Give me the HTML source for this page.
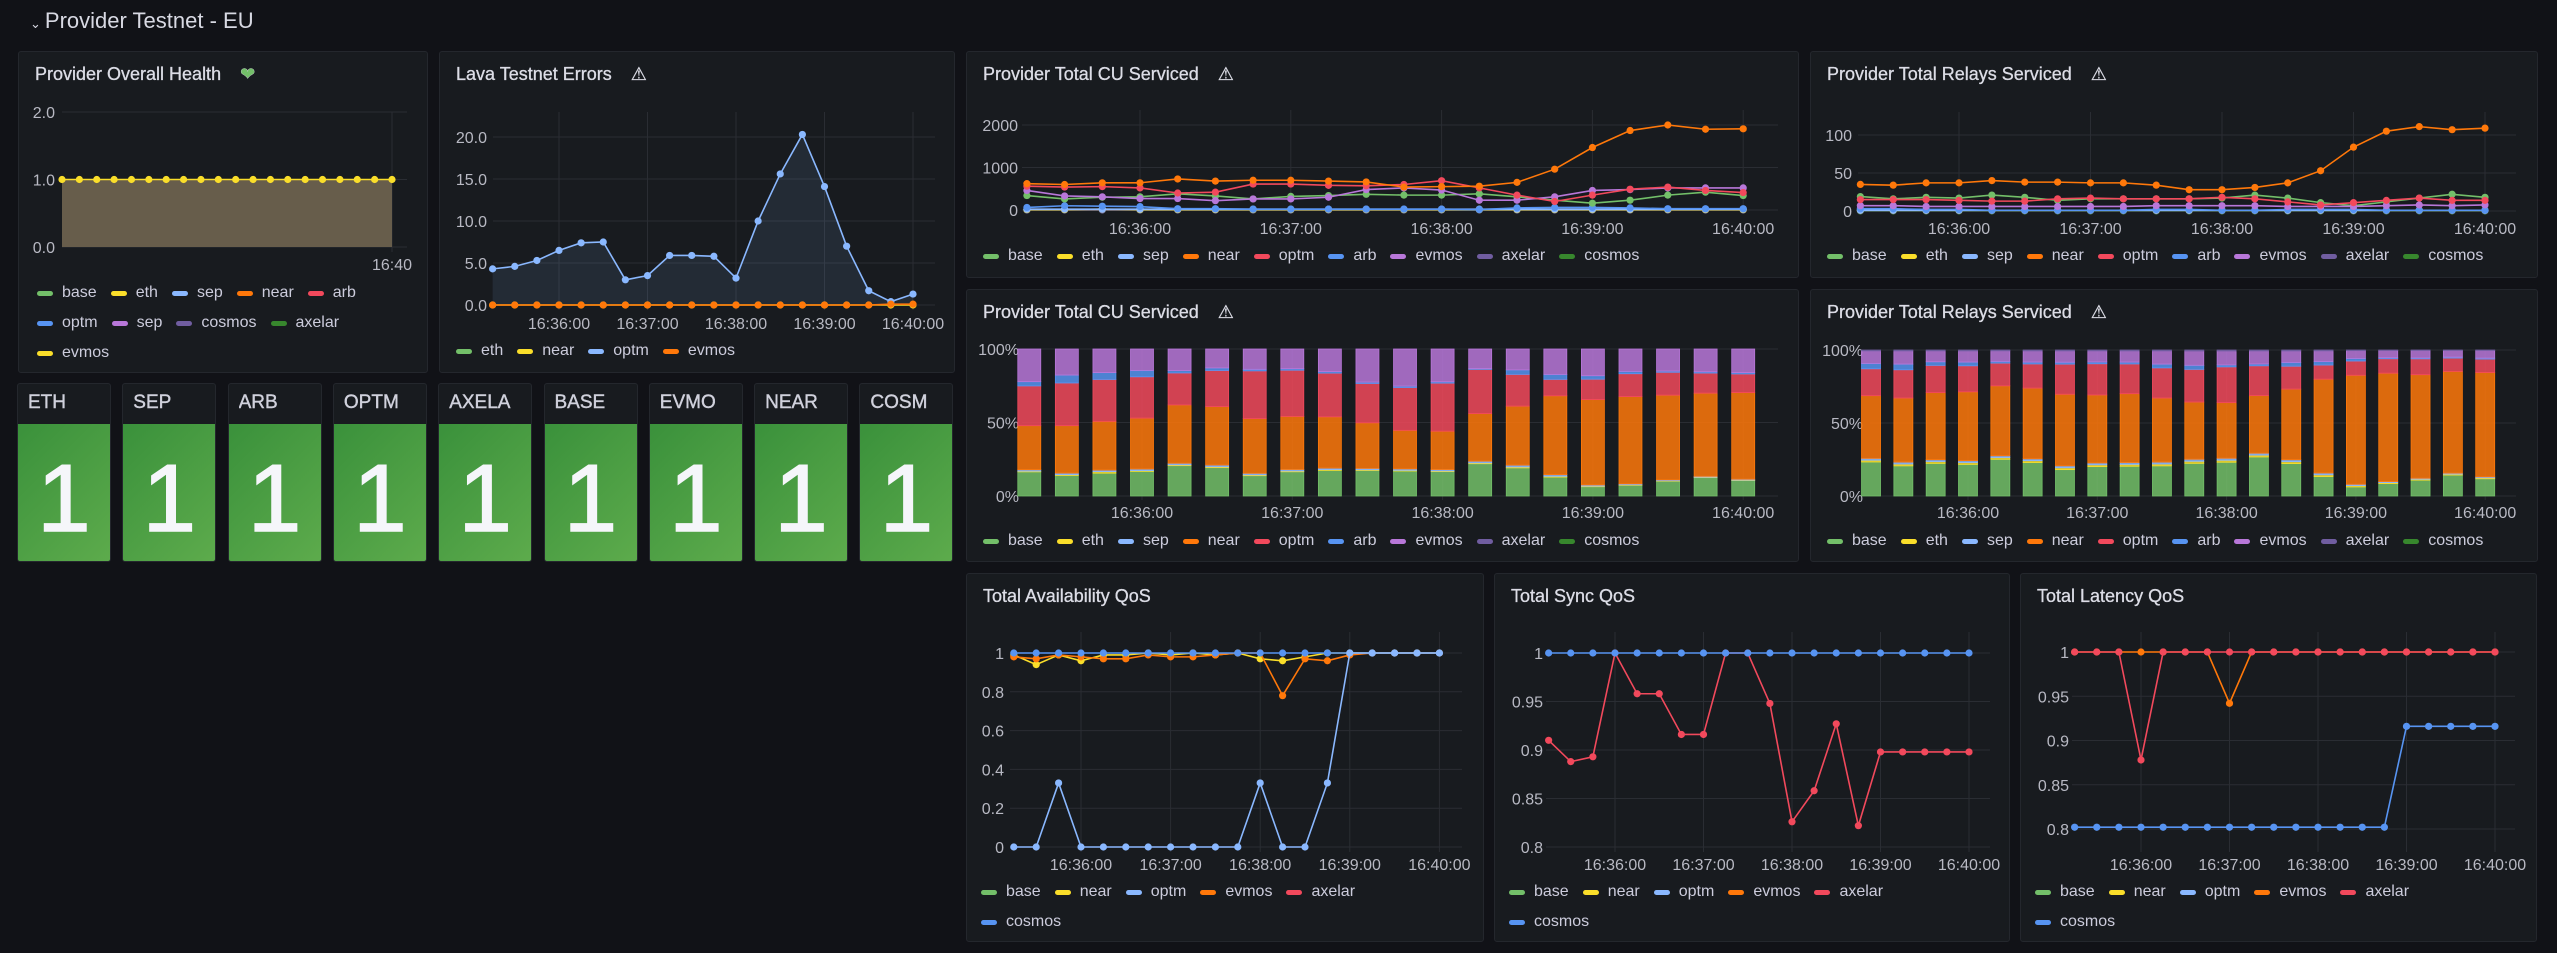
<!DOCTYPE html>
<html><head><meta charset="utf-8">
<style>
body{margin:0;width:2557px;height:953px;background:#111217;font-family:"Liberation Sans",sans-serif;color:#ccccdc;overflow:hidden;position:relative}
.panel{position:absolute;background:#181b1f;border:1px solid #24272d;border-radius:3px;box-sizing:border-box}
.title{position:absolute;left:16px;top:12px;font-size:18px;font-weight:400;color:#dcdde6;white-space:nowrap;-webkit-text-stroke:0.3px #dcdde6}
.legend{position:absolute;display:flex;flex-wrap:wrap;font-size:16px;color:#ccccdc;row-gap:10px}
.li{display:flex;align-items:center;margin-right:14px;height:20px}
.sw{width:16px;height:5px;border-radius:3px;margin-right:9px}
.tile{position:absolute;top:383px;width:94px;height:179px;border:1px solid #24272d;border-radius:3px;box-sizing:border-box;background:#181b1f;overflow:hidden}
.tile .h{position:absolute;left:10px;top:8px;font-size:19px;font-weight:400;-webkit-text-stroke:0.4px #d0d1dc;color:#d0d1dc;width:80px;overflow:hidden;white-space:nowrap}
.tile .g{position:absolute;left:0;top:40px;right:0;bottom:0;background:linear-gradient(135deg,#3a913b,#5dab4c)}
.tile .v{position:absolute;left:0;right:0;top:20px;text-align:center;font-size:96px;color:#f5f6fa;font-weight:400;-webkit-text-stroke:1.5px #f5f6fa}
svg text{font-family:"Liberation Sans",sans-serif}
</style></head><body>
<div style="position:absolute;left:30px;top:8px;font-size:22px;color:#d8d9e3;font-weight:500"><span style="font-size:13px;margin-right:4px">&#8964;</span>Provider Testnet - EU</div>

<div class="panel" style="left:18px;top:51px;width:410px;height:322px"><div class="title">Provider Overall Health <span style="color:#73bf69;margin-left:14px">&#10084;</span></div>
<div class="legend" style="left:18px;top:231px;width:380px"></div></div>
<div class="panel" style="left:439px;top:51px;width:516px;height:322px"><div class="title">Lava Testnet Errors <span style="margin-left:14px;font-weight:400">&#9888;</span></div>
<div class="legend" style="left:16px;top:289px;width:480px"></div></div>
<div class="panel" style="left:966px;top:51px;width:833px;height:227px"><div class="title">Provider Total CU Serviced <span style="margin-left:14px;font-weight:400">&#9888;</span></div>
<div class="legend" style="left:16px;top:194px;width:800px"></div></div>
<div class="panel" style="left:1810px;top:51px;width:728px;height:227px"><div class="title">Provider Total Relays Serviced <span style="margin-left:14px;font-weight:400">&#9888;</span></div>
<div class="legend" style="left:16px;top:194px;width:700px"></div></div>
<div class="panel" style="left:966px;top:289px;width:833px;height:273px"><div class="title">Provider Total CU Serviced <span style="margin-left:14px;font-weight:400">&#9888;</span></div>
<div class="legend" style="left:16px;top:241px;width:800px"></div></div>
<div class="panel" style="left:1810px;top:289px;width:728px;height:273px"><div class="title">Provider Total Relays Serviced <span style="margin-left:14px;font-weight:400">&#9888;</span></div>
<div class="legend" style="left:16px;top:241px;width:700px"></div></div>
<div class="panel" style="left:966px;top:573px;width:518px;height:369px"><div class="title">Total Availability QoS</div>
<div class="legend" style="left:14px;top:308px;width:420px"></div></div>
<div class="panel" style="left:1494px;top:573px;width:516px;height:369px"><div class="title">Total Sync QoS</div>
<div class="legend" style="left:14px;top:308px;width:420px"></div></div>
<div class="panel" style="left:2020px;top:573px;width:517px;height:369px"><div class="title">Total Latency QoS</div>
<div class="legend" style="left:14px;top:308px;width:420px"></div></div>

<div id="tiles"></div>
<svg id="s" width="2557" height="953" style="position:absolute;left:0;top:0"></svg>

<script>
const C={base:'#73bf69',eth:'#fade2a',sep:'#8ab8ff',near:'#ff780a',optm:'#f2495c',arb:'#5794f2',evmos:'#b877d9',axelar:'#705da0',cosmos:'#37872d',red:'#f2495c',blue:'#5794f2'};
// ---- data ----
const timeTicks=['16:36:00','16:37:00','16:38:00','16:39:00','16:40:00'];
const tickMinutes=[36,37,38,39,40];
const statNames=['ETH','SEP','ARB','OPTM','AXELA','BASE','EVMO','NEAR','COSM'];
const statValues=[1,1,1,1,1,1,1,1,1];
const healthValues=[1,1,1,1,1,1,1,1,1,1,1,1,1,1,1,1,1,1,1,1];
const healthTicks=[0,1,2];
const errOptm=[4.3,4.6,5.3,6.5,7.4,7.5,3.0,3.5,5.9,5.9,5.8,3.2,10.0,15.6,20.3,14.1,7.0,1.7,0.4,1.3];
const errEvmos=[0,0,0,0,0,0,0,0,0,0,0,0,0,0,0,0,0,0,0.1,0.1];
const errNear=[0,0,0,0,0,0,0,0,0,0,0,0,0,0,0,0,0,0,0,0];
const errTicks=[0,5,10,15,20];
const cuBase=[340,260,300,310,380,330,260,320,340,370,350,350,380,310,230,160,230,350,420,340];
const cuEth=[10,10,20,10,10,10,10,10,10,10,10,10,10,10,10,10,10,10,10,10];
const cuSep=[20,20,20,20,20,20,20,20,20,20,20,20,20,20,20,20,20,20,20,20];
const cuNear=[620,600,640,640,730,680,700,700,680,660,540,550,560,650,960,1470,1870,2000,1900,1910];
const cuOptm=[560,540,550,520,400,420,610,610,580,570,600,690,520,350,200,350,490,540,460,410];
const cuArb=[60,100,90,80,30,30,20,20,20,20,20,20,10,50,60,60,50,30,30,30];
const cuEvmos=[460,330,310,270,270,220,260,260,300,480,520,470,230,230,310,460,480,520,520,520];
const cuAxelar=[0,0,0,0,0,0,0,0,0,0,0,0,0,0,0,0,0,0,0,0];
const cuCosmos=[0,0,0,0,0,0,0,0,0,0,0,0,0,0,0,0,0,0,0,0];
const cuTicks=[0,1000,2000];
const rlBase=[19,16,18,17,21,18,14,16,16,16,16,17,21,17,11,7,12,17,22,18];
const rlEth=[1,1,1,1,1,1,1,1,1,1,1,1,1,1,1,1,1,1,1,1];
const rlSep=[1,1,1,1,1,1,1,1,1,1,1,1,1,1,1,1,1,1,1,1];
const rlNear=[35,34,37,37,40,38,38,37,37,34,28,28,31,37,53,84,105,111,107,109];
const rlOptm=[15,15,15,14,13,13,16,17,16,16,16,18,16,12,8,11,14,17,14,14];
const rlArb=[3,3,2,2,1,1,1,1,1,2,2,1,1,2,2,2,1,1,1,1];
const rlEvmos=[7,7,6,6,6,6,6,6,6,7,7,7,7,6,6,6,7,8,7,8];
const rlAxelar=[0.5,0.5,0.5,0.5,0.5,0.5,0.5,0.5,0.5,0.5,0.5,0.5,0.5,0.5,0.5,0.5,0.5,0.5,0.5,0.5];
const rlCosmos=[0,0,0,0,0,0,0,0,0,0,0,0,0,0,0,0,0,0,0,0];
const rlTicks=[0,50,100];
const pctTicks=[0,50,100];
const avOptm=[0,0,0.33,0,0,0,0,0,0,0,0,0.33,0,0,0.33,1,1,1,1,1];
const avEvmos=[0.98,0.97,0.99,0.98,0.97,0.97,0.99,0.98,0.98,0.99,1,1,0.78,0.97,0.96,0.99,1,1,1,1];
const avNear=[0.99,0.94,0.99,0.96,0.99,0.99,1,0.99,1,0.99,1,0.97,0.96,0.98,1,1,1,1,1,1];
const avCosmos=[1,1,1,1,1,1,1,1,1,1,1,1,1,1,1,1,1,1,1,1];
const avTicks=[0,0.2,0.4,0.6,0.8,1];
const syAxelar=[0.91,0.888,0.893,1,0.958,0.958,0.916,0.916,1,1,0.948,0.826,0.858,0.927,0.822,0.898,0.898,0.898,0.898,0.898];
const syCosmos=[1,1,1,1,1,1,1,1,1,1,1,1,1,1,1,1,1,1,1,1];
const syTicks=[0.8,0.85,0.9,0.95,1];
const ltAxelar=[1,1,1,0.878,1,1,1,1,1,1,1,1,1,1,1,1,1,1,1,1];
const ltEvmos=[1,1,1,1,1,1,1,0.942,1,1,1,1,1,1,1,1,1,1,1,1];
const ltCosmos=[0.802,0.802,0.802,0.802,0.802,0.802,0.802,0.802,0.802,0.802,0.802,0.802,0.802,0.802,0.802,0.916,0.916,0.916,0.916,0.916];
const ltTicks=[0.8,0.85,0.9,0.95,1];

const svg=document.getElementById('s');const NS='http://www.w3.org/2000/svg';
function mk(t,a,p){const e=document.createElementNS(NS,t);for(const k in a)e.setAttribute(k,a[k]);(p||svg).appendChild(e);return e;}
const tOf=i=>35.25+i*0.25;
function axes(g,ax){
 ax.yTicks.forEach(v=>{const y=ax.y(v);
  const l=mk('line',{x1:ax.gx0,x2:ax.gx1,y1:y,y2:y,stroke:'#2a2d33','stroke-width':1},g);
  
  const t=mk('text',{x:ax.lx,y:y+6,'text-anchor':'end','font-size':16,fill:'#b8b9c3'},g);t.textContent=ax.fmt(v);
  });
 ax.xTicks.forEach((m,k)=>{const x=ax.x(m);
  const l=mk('line',{x1:x,x2:x,y1:ax.gy0,y2:ax.gy1,stroke:'#2a2d33','stroke-width':1},g);
  
  const t=mk('text',{x:x,y:ax.xly,'text-anchor':'middle','font-size':16,fill:'#b8b9c3'},g);t.textContent=ax.xLabels[k];
  });
}
function series(g,ax,vals,col,name,fill){
 const pts=vals.map((v,i)=>[ax.x(tOf(i)),ax.y(v)]);
 if(fill){const f=mk('path',{d:'M'+pts[0][0]+','+ax.y(0)+pts.map(p=>'L'+p[0]+','+p[1]).join('')+'L'+pts[pts.length-1][0]+','+ax.y(0)+'Z',fill:fill},g);
  }
 const p=mk('path',{d:pts.map((p,i)=>(i?'L':'M')+p[0]+','+p[1]).join(''),fill:'none',stroke:col,'stroke-width':1.6},g);
 
 pts.forEach(q=>{const c=mk('circle',{cx:q[0],cy:q[1],r:3.6,fill:col},g);
  });
}
function linX(x36,pm){return m=>x36+(m-36)*pm;}
function linY(v0,y0,v1,y1){return v=>y0+(v-v0)*(y1-y0)/(v1-v0);}
function legend(idx,items){const L=document.querySelectorAll('.legend')[idx];
 items.forEach(([n,c])=>{const d=document.createElement('div');d.className='li';
  
  d.innerHTML='<span class="sw" style="background:'+c+'"></span>'+n;L.appendChild(d);});}

// Health
(function(){const g=mk('g',{});
 const ax={x:m=>62+(m-35.25)/4.75*330,y:linY(0,247,2,112),gx0:62,gx1:407,gy0:112,gy1:252,lx:55,yTicks:healthTicks,fmt:v=>v.toFixed(1),xTicks:[40],xLabels:['16:40'],xly:270};
 axes(g,ax);series(g,ax,healthValues,'#fade2a','evmos','rgba(250,222,42,0.0)');
 const pts=healthValues.map((v,i)=>[ax.x(tOf(i)),ax.y(v)]);
 const a=mk('path',{d:'M62,247'+pts.map(p=>'L'+p[0]+','+p[1]).join('')+'L392,247Z',fill:'#675d4b'});
 g.insertBefore(a,g.querySelector('path'));
 legend(0,[['base',C.base],['eth',C.eth],['sep',C.sep],['near',C.near],['arb',C.optm],['optm',C.arb],['sep',C.evmos],['cosmos',C.axelar],['axelar',C.cosmos],['evmos',C.eth]]);})();
// Errors
(function(){const g=mk('g',{});
 const ax={x:linX(559,88.5),y:linY(0,305,20,137),gx0:493,gx1:935,gy0:112,gy1:310,lx:487,yTicks:errTicks,fmt:v=>v.toFixed(1),xTicks:tickMinutes,xLabels:timeTicks,xly:329};
 axes(g,ax);series(g,ax,errOptm,C.sep,'optm','rgba(138,184,255,0.1)');series(g,ax,errNear,C.eth,'near');series(g,ax,errEvmos,C.near,'evmos');
 legend(1,[['eth',C.base],['near',C.eth],['optm',C.sep],['evmos',C.near]]);})();
const nine=['base','eth','sep','near','optm','arb','evmos','axelar','cosmos'];
const cuAll=[cuBase,cuEth,cuSep,cuNear,cuOptm,cuArb,cuEvmos,cuAxelar,cuCosmos];
const rlAll=[rlBase,rlEth,rlSep,rlNear,rlOptm,rlArb,rlEvmos,rlAxelar,rlCosmos];
function lineChart(name,ax,all,li){const g=mk('g',{});
 axes(g,ax);[8,7,1,2,5,0,6,4,3].forEach(k=>series(g,ax,all[k],C[nine[k]],nine[k]));legend(li,nine.map(n=>[n,C[n]]));}
lineChart('cu-line-chart',{x:linX(1140,150.8),y:linY(0,210,2000,125),gx0:1022,gx1:1778,gy0:110,gy1:214,lx:1018,yTicks:cuTicks,fmt:v=>v,xTicks:tickMinutes,xLabels:timeTicks,xly:234},cuAll,2);
lineChart('relays-line-chart',{x:linX(1959,131.5),y:linY(0,211,100,135),gx0:1858,gx1:2516,gy0:112,gy1:214,lx:1852,yTicks:rlTicks,fmt:v=>v,xTicks:tickMinutes,xLabels:timeTicks,xly:234},rlAll,3);
function barChart(name,ax,all,bw,li){const g=mk('g',{});
 axes(g,ax);
 for(let i=0;i<all[0].length;i++){const tot=all.reduce((s,a)=>s+a[i],0);let acc=0;const x=ax.x(tOf(i));
  all.forEach((a,k)=>{const v=a[i]/tot*100;if(v<=0)return;const y1=ax.y(acc),y2=ax.y(acc+v);acc+=v;
   const r=mk('rect',{x:x-bw/2,y:y2,width:bw,height:y1-y2,fill:C[nine[k]],'fill-opacity':0.85,stroke:C[nine[k]],'stroke-width':0.8},g);
   });}
 legend(li,nine.map(n=>[n,C[n]]));}
barChart('cu-bar-chart',{x:linX(1142,150.3),y:linY(0,496,100,349),gx0:1022,gx1:1778,gy0:349,gy1:500,lx:1019,yTicks:pctTicks,fmt:v=>v+'%',xTicks:tickMinutes,xLabels:timeTicks,xly:518},cuAll,23,4);
barChart('relays-bar-chart',{x:linX(1968,129.3),y:linY(0,496,100,350),gx0:1870,gx1:2516,gy0:350,gy1:500,lx:1863,yTicks:pctTicks,fmt:v=>v+'%',xTicks:tickMinutes,xLabels:timeTicks,xly:518},rlAll,19,5);
const qosLeg=[['base',C.base],['near',C.eth],['optm',C.sep],['evmos',C.near],['axelar',C.optm],['cosmos',C.arb]];
(function(){const g=mk('g',{});
 const ax={x:linX(1081,89.6),y:linY(0,847,1,653),gx0:1010,gx1:1462,gy0:632,gy1:852,lx:1004,yTicks:avTicks,fmt:v=>String(v),xTicks:tickMinutes,xLabels:timeTicks,xly:870};
 axes(g,ax);series(g,ax,avNear,C.eth,'near');series(g,ax,avEvmos,C.near,'evmos');series(g,ax,avCosmos,C.arb,'cosmos');series(g,ax,avOptm,C.sep,'optm');legend(6,qosLeg);})();
(function(){const g=mk('g',{});
 const ax={x:linX(1615,88.5),y:linY(0.8,847,1,653),gx0:1546,gx1:1990,gy0:632,gy1:852,lx:1543,yTicks:syTicks,fmt:v=>String(v),xTicks:tickMinutes,xLabels:timeTicks,xly:870};
 axes(g,ax);series(g,ax,syAxelar,C.red,'axelar');series(g,ax,syCosmos,C.blue,'cosmos');legend(7,qosLeg);})();
(function(){const g=mk('g',{});
 const ax={x:linX(2141,88.5),y:linY(0.8,829,1,652),gx0:2072,gx1:2515,gy0:632,gy1:852,lx:2069,yTicks:ltTicks,fmt:v=>String(v),xTicks:tickMinutes,xLabels:timeTicks,xly:870};
 axes(g,ax);series(g,ax,ltCosmos,C.blue,'cosmos');series(g,ax,ltEvmos,C.near,'evmos');series(g,ax,ltAxelar,C.red,'axelar');legend(8,qosLeg);})();
// Stat tiles
const T=document.getElementById('tiles');
statNames.forEach((n,i)=>{const d=document.createElement('div');d.className='tile';d.style.left=(17+i*105.3)+'px';
 
 d.innerHTML='<div class="h">'+n+'</div><div class="g"><div class="v">'+statValues[i]+'</div></div>';T.appendChild(d);});
</script>
</body></html>
